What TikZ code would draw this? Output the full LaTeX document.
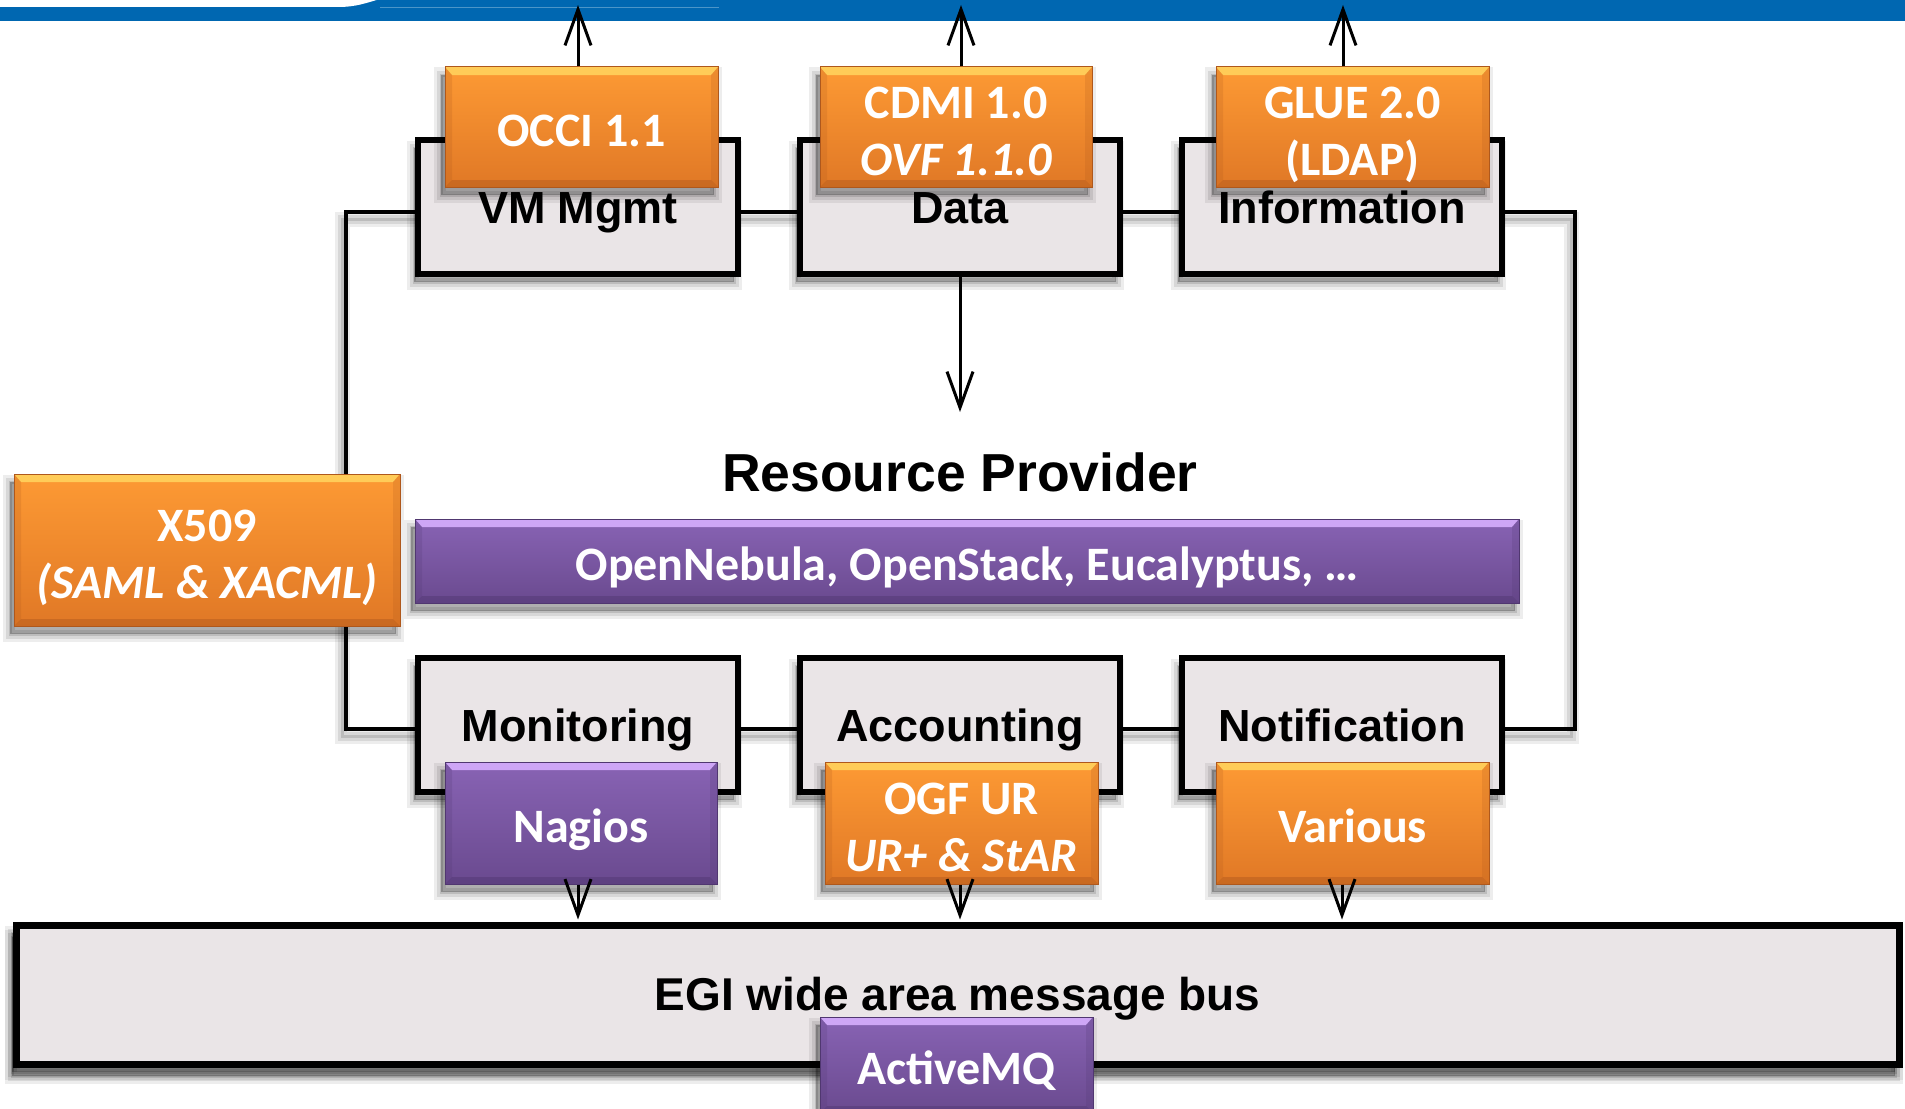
\documentclass[tikz,border=0pt]{standalone}
\usepackage{fontspec}
\setmainfont{Liberation Sans}
\newfontfamily\carl{Carlito}
\usetikzlibrary{arrows.meta,shadows}

\definecolor{barblue}{RGB}{0,103,177}
\definecolor{boxgray}{RGB}{234,229,231}
\definecolor{oTop}{RGB}{253,154,52}
\definecolor{oBot}{RGB}{224,120,38}
\definecolor{oLight}{RGB}{255,204,88}
\definecolor{oDark}{RGB}{175,88,28}
\definecolor{pTop}{RGB}{136,99,180}
\definecolor{pBot}{RGB}{106,74,143}
\definecolor{pLight}{RGB}{206,166,246}
\definecolor{pDark}{RGB}{80,55,112}

\newcommand\firststrut{\rule{0pt}{39pt}}

\tikzset{
 softshadow/.style={
  general shadow={fill=black,draw=black,opacity=.07,line width=15pt,shadow xshift=-4pt,shadow yshift=-#1},
  general shadow={fill=black,draw=black,opacity=.09,line width=9pt,shadow xshift=-4pt,shadow yshift=-#1},
  general shadow={fill=black,draw=black,opacity=.12,line width=3pt,shadow xshift=-4pt,shadow yshift=-#1}},
 softshadow/.default=8pt,
 bevel/.style 2 args={path picture={
   \fill[#1] (path picture bounding box.north west) -- (path picture bounding box.north east)
     -- ([xshift=-7pt,yshift=-8pt]path picture bounding box.north east)
     -- ([xshift=7pt,yshift=-8pt]path picture bounding box.north west) -- cycle;
   \fill[#2,opacity=.45] (path picture bounding box.south west) -- (path picture bounding box.south east)
     -- ([xshift=-7pt,yshift=7pt]path picture bounding box.south east)
     -- ([xshift=7pt,yshift=7pt]path picture bounding box.south west) -- cycle;
   \fill[#2,opacity=.2] (path picture bounding box.north west)
     -- ([xshift=7pt,yshift=-8pt]path picture bounding box.north west)
     -- ([xshift=7pt,yshift=7pt]path picture bounding box.south west)
     -- (path picture bounding box.south west) -- cycle;
   \fill[#2,opacity=.2] (path picture bounding box.north east)
     -- ([xshift=-7pt,yshift=-8pt]path picture bounding box.north east)
     -- ([xshift=-7pt,yshift=7pt]path picture bounding box.south east)
     -- (path picture bounding box.south east) -- cycle;
 }},
 graybox/.style={rectangle, draw=black, line width=6.5pt, fill=boxgray,
   minimum width=320pt, minimum height=134pt, inner sep=0pt,
   font=\bfseries\fontsize{45}{54}\selectfont, text height=32pt, text depth=0pt, softshadow},
 obox/.style={rectangle, draw=oDark, line width=1pt, top color=oTop, bottom color=oBot,
   text=white, inner sep=0pt, align=center, minimum width=273pt, minimum height=120pt,
   font=\carl\bfseries\fontsize{48}{57}\selectfont, softshadow, bevel={oLight}{oDark}},
 pbox/.style={rectangle, draw=pDark, line width=1pt, top color=pTop, bottom color=pBot,
   text=white, inner sep=0pt, align=center, minimum width=273pt, minimum height=120pt,
   font=\carl\bfseries\fontsize{48}{57}\selectfont, softshadow, bevel={pLight}{pDark}},
 oneline/.style={text height=38pt, text depth=0pt},
 twoline/.style={text depth=0pt},
 arr/.style={line width=3pt, -{Straight Barb[length=36pt,width=26pt]}},
 title/.style={font=\bfseries\fontsize{53.5}{60}\selectfont}
}

\begin{document}
\begin{tikzpicture}[x=1pt,y=-1pt]
\useasboundingbox (0,0) rectangle (1905,1108);
\fill[white] (0,0) rectangle (1905,1108);

% top blue bar
\fill[barblue] (0,0) rectangle (1905,21);
\fill[white] (0,-1) -- (0,7) -- (338,7) .. controls (356,7) and (366,3) .. (380,-1) -- cycle;
\draw[barblue!70!white, line width=0.8pt] (380,7.5) -- (719,7.5);

% resource provider frame
\coordinate (fTL) at (346,212);
\coordinate (fBR) at (1575,729);
\begin{scope}[transform canvas={xshift=-4pt,yshift=-7pt}]
 \foreach \w/\o in {15/.07,9/.09,3/.12}
   \draw[line width=\w pt, draw opacity=\o] (fTL) rectangle (fBR);
\end{scope}
\draw[line width=3.5pt] (fTL) rectangle (fBR);

% gray function boxes
\node[graybox] (vm) at (578,207) {VM Mgmt};
\node[graybox] (data) at (960,207) {Data};
\node[graybox] (info) at (1342,207) {Information};
\node[graybox] (mon) at (578,725) {Monitoring};
\node[graybox] (acc) at (960,725) {Accounting};
\node[graybox] (notif) at (1342,725) {Notification};

% centre
\node[title] (rp) at (960,472) {Resource Provider};
\node[pbox, minimum width=1104pt, minimum height=84pt, text height=38pt, text depth=0pt,
      font=\carl\bfseries\fontsize{48}{54}\selectfont] (stack) at (967,561)
      {OpenNebula, OpenStack, Eucalyptus, …};
\node[obox, twoline, minimum width=386pt, minimum height=152pt] (x509) at (207,550)
      {\firststrut X509\\\itshape (SAML \& XACML)};

% standards on top
\node[obox, oneline] (occi) at (581.5,127) {OCCI 1.1};
\node[obox, twoline, minimum width=272pt] (cdmi) at (956,127) {\firststrut CDMI 1.0\\\itshape OVF 1.1.0};
\node[obox, twoline] (glue) at (1352.5,127) {\firststrut GLUE 2.0\\(LDAP)};

% bus
\node[graybox, minimum width=1883pt, minimum height=139pt, line width=7pt, softshadow=12pt,
      font=\bfseries\fontsize{46}{54}\selectfont] (bus)
      at (957.5,994.5) {EGI wide area message bus};
\node[pbox, oneline, minimum height=96pt] (amq) at (956.5,1065) {ActiveMQ};

% standards at bottom
\node[pbox, oneline, minimum width=272pt, minimum height=122pt] (nagios) at (581,823) {Nagios};
\node[obox, twoline, minimum height=122pt] (ogf) at (961.5,823) {\firststrut OGF UR\\\itshape UR+ \& StAR};
\node[obox, oneline, minimum height=122pt] (various) at (1352.5,823) {Various};

% arrows
\coordinate (ta) at (578,5);
\coordinate (tb) at (961,5);
\coordinate (tc) at (1343,5);
\coordinate (dtip) at (960,412);
\draw[arr] (vm.north |- occi.north) -- (ta);
\draw[arr] (tb |- cdmi.north) -- (tb);
\draw[arr] (tc |- glue.north) -- (tc);
\draw[arr] (data.south) -- (dtip);
\draw[arr] (mon.south |- nagios.south) -- ([yshift=2pt]mon.south |- bus.north);
\draw[arr] (acc.south |- ogf.south) -- ([yshift=2pt]acc.south |- bus.north);
\draw[arr] (notif.south |- various.south) -- ([yshift=2pt]notif.south |- bus.north);
\end{tikzpicture}
\end{document}
